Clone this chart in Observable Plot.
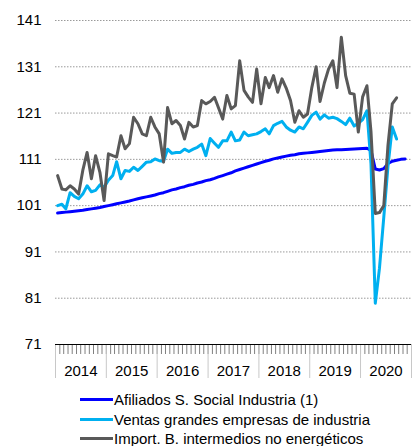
<!DOCTYPE html>
<html><head><meta charset="utf-8">
<script src="https://cdn.jsdelivr.net/npm/d3@7"></script>
<script src="https://cdn.jsdelivr.net/npm/@observablehq/plot@0.6"></script>
<style>
body{margin:0;background:#fff;font-family:"Liberation Sans",Arial,sans-serif;}
#legend{padding-left:80px;margin-top:5px;font-size:15px;color:#000;}
.row{display:flex;align-items:center;height:19.5px;white-space:nowrap;}
.sw{width:33px;height:3px;margin-right:1px;flex:none;}
</style></head><body>
<div id="chart"></div>
<div id="legend"></div>
<script>
const startYear = 2014;
const seriesNames = ["Afiliados S. Social Industria (1)", "Ventas grandes empresas de industria", "Import. B. intermedios no energéticos"];
const seriesColors = ["#0000ff", "#00b0f0", "#595959"];
const years = [2014, 2015, 2016, 2017, 2018, 2019, 2020];
const yTicks = [71, 81, 91, 101, 111, 121, 131, 141];

// monthly from Jan 2014
const afiliados = [
  99.4, 99.5, 99.6, 99.7, 99.8, 99.9, 100.0, 100.15, 100.3, 100.45, 100.6, 100.8,
  101.0, 101.2, 101.4, 101.6, 101.8, 102.0, 102.25, 102.5, 102.7, 102.9, 103.1, 103.3,
  103.6, 103.8, 104.1, 104.4, 104.6, 104.9, 105.1, 105.4, 105.6, 105.9, 106.1, 106.4,
  106.6, 106.9, 107.2, 107.5, 107.8, 108.1, 108.5, 108.8, 109.1, 109.4, 109.7, 110.0,
  110.3, 110.6, 110.8, 111.1, 111.3, 111.5, 111.7, 111.9, 112.0, 112.2, 112.3, 112.4,
  112.5, 112.6, 112.7, 112.8, 112.9, 113.0, 113.05, 113.1, 113.15, 113.2, 113.25, 113.3,
  113.35, 113.4, 112.9, 108.9, 108.7, 109.0, 110.1, 110.6, 110.8, 111.0, 111.1
];
const ventas = [
  101.0, 101.3, 100.3, 103.8, 103.0, 102.5, 103.5, 105.3, 104.0, 104.3, 105.5, 105.0,
  106.5, 107.5, 110.5, 106.8, 108.6, 108.4, 109.3, 108.6, 109.5, 110.4, 110.5, 111.1,
  110.7, 110.6, 113.2, 112.3, 112.5, 112.5, 113.2, 112.7, 113.2, 113.6, 114.3, 111.8,
  115.5, 114.5, 113.6, 115.0, 115.0, 116.9, 115.0, 115.2, 116.9, 116.1, 116.3, 116.5,
  117.0, 117.6, 116.5, 118.3, 118.8, 119.2, 118.0, 117.3, 116.9, 118.0, 117.6, 119.0,
  120.5, 121.2, 119.7, 120.6, 119.9, 120.1, 119.8, 119.2, 118.5, 119.9, 118.2, 118.8,
  119.6, 121.5, 110.0, 79.9, 87.5, 98.5, 109.5, 118.0, 115.4
];
const importB = [
  107.5, 104.6, 104.4, 105.3, 104.6, 103.5, 108.6, 112.5, 106.8, 111.8, 108.2, 102.1,
  112.2, 111.8, 111.5, 116.1, 113.3, 114.4, 120.1, 118.7, 116.5, 116.1, 120.1, 118.0,
  116.5, 110.4, 122.2, 118.7, 119.4, 118.3, 115.4, 119.0, 118.0, 118.3, 123.7, 123.0,
  123.5, 124.4, 122.2, 119.7, 124.8, 121.9, 122.6, 132.3, 125.9, 124.5, 123.3, 130.5,
  123.0, 128.7, 126.5, 129.1, 125.5, 128.4, 126.4, 123.7, 119.0, 121.5, 120.1, 120.8,
  126.5, 131.0, 123.5, 127.5, 130.5, 132.3, 126.5, 137.4, 129.1, 125.3, 125.1, 116.9,
  124.5, 126.9, 117.0, 99.3, 99.5, 101.0, 114.0, 123.0, 124.3
];

const rows = vals => vals.map((v, i) => ({date: new Date(Date.UTC(startYear, i, 16)), value: v}));
const monthTicks = d3.utcMonth.range(new Date(Date.UTC(startYear, 0, 1)), new Date(Date.UTC(years[years.length-1] + 1, 0, 2)));
const yearBounds = [...years, years[years.length-1] + 1].map(y => new Date(Date.UTC(y, 0, 1)));
const yearMids = years.map(y => new Date(Date.UTC(y, 6, 2)));

const chart = Plot.plot({
  width: 416,
  height: 385,
  marginLeft: 55,
  marginRight: 5,
  marginTop: 20,
  marginBottom: 41,
  style: {fontFamily: '"Liberation Sans", Arial, sans-serif', color: "#000", background: "#fff"},
  x: {type: "utc", domain: [yearBounds[0], yearBounds[yearBounds.length-1]], label: null},
  y: {domain: [71, 141], label: null},
  marks: [
    Plot.ruleY(yTicks.slice(1), {stroke: "#9a9a9a", strokeDasharray: "1.5 1.5", strokeWidth: 1}),
    Plot.axisY(yTicks, {tickSize: 0, tickPadding: 14, fontSize: 15, label: null}),
    Plot.axisX(monthTicks, {tickSize: 10, text: null, stroke: "#808080", label: null}),
    Plot.axisX(yearBounds, {tickSize: 34, text: null, stroke: "#c8c8c8", label: null}),
    Plot.axisX(yearMids, {tickSize: 0, tickPadding: 21, fontSize: 15, tickFormat: d => String(d.getUTCFullYear()), label: null}),
    Plot.ruleY([71], {stroke: "#000", strokeWidth: 1}),
    Plot.line(rows(afiliados), {x: "date", y: "value", stroke: seriesColors[0], strokeWidth: 3}),
    Plot.line(rows(ventas), {x: "date", y: "value", stroke: seriesColors[1], strokeWidth: 3}),
    Plot.line(rows(importB), {x: "date", y: "value", stroke: seriesColors[2], strokeWidth: 3})
  ]
});
document.getElementById("chart").appendChild(chart);

const legend = document.getElementById("legend");
seriesNames.forEach((name, i) => {
  const row = document.createElement("div");
  row.className = "row";
  const sw = document.createElement("span");
  sw.className = "sw";
  sw.style.background = seriesColors[i];
  const t = document.createElement("span");
  t.textContent = name;
  row.appendChild(sw);
  row.appendChild(t);
  legend.appendChild(row);
});
</script>
</body></html>
